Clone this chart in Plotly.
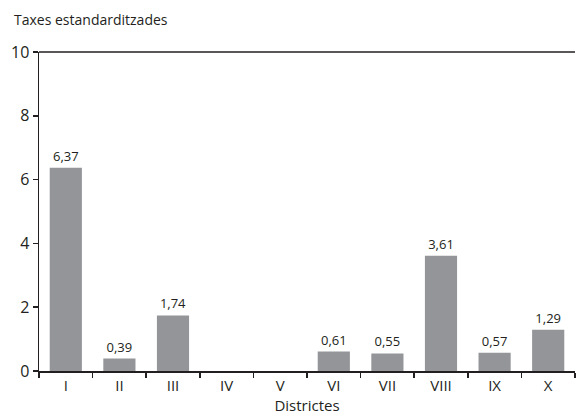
import plotly.graph_objects as go

districtes = ["I", "II", "III", "IV", "V", "VI", "VII", "VIII", "IX", "X"]
taxes = [6.37, 0.39, 1.74, None, None, 0.61, 0.55, 3.61, 0.57, 1.29]
labels = ["6,37", "0,39", "1,74", "", "", "0,61", "0,55", "3,61", "0,57", "1,29"]
y_ticks = [0, 2, 4, 6, 8, 10]

FONT = "Open Sans"

fig = go.Figure()
fig.add_trace(go.Bar(
    x=districtes,
    y=taxes,
    text=labels,
    textposition="outside",
    textfont=dict(size=13, color="#231f20", family=FONT),
    marker=dict(color="#939598", line=dict(width=0)),
    cliponaxis=False,
    hoverinfo="skip",
))

fig.update_layout(
    width=576, height=416,
    margin=dict(l=39, r=1, t=52, b=45),
    paper_bgcolor="white", plot_bgcolor="white",
    bargap=0.4,
    showlegend=False,
    hovermode=False,
    font=dict(family=FONT, color="#231f20", size=14),
    separators=",.",
    xaxis=dict(
        type="category",
        showline=True, linecolor="#231f20", linewidth=1.5,
        ticks="outside", ticklen=5, tickcolor="#231f20", tickwidth=1.5,
        tickson="boundaries",
        showgrid=False, zeroline=False,
        tickfont=dict(size=15, family=FONT),
        title=dict(text="Districtes", font=dict(size=15, family=FONT), standoff=0),
    ),
    yaxis=dict(
        range=[0, 10],
        tickvals=y_ticks,
        showline=True, linecolor="#231f20", linewidth=1.5,
        ticks="outside", ticklen=5, tickcolor="#231f20", tickwidth=1.5,
        showgrid=False, zeroline=False,
        tickfont=dict(size=16, family=FONT),
    ),
    shapes=[dict(type="line", xref="paper", yref="paper", x0=0, x1=1, y0=1, y1=1,
                 line=dict(color="#231f20", width=1.5))],
    annotations=[dict(text="Taxes estandarditzades", xref="paper", yref="paper",
                      x=-0.05, y=1.0, xanchor="left", yanchor="bottom", yshift=21,
                      showarrow=False, font=dict(size=14, family=FONT))],
)

fig.write_html("out.html", config={"displayModeBar": False, "staticPlot": True},
               post_script="document.body.style.margin='0';")
